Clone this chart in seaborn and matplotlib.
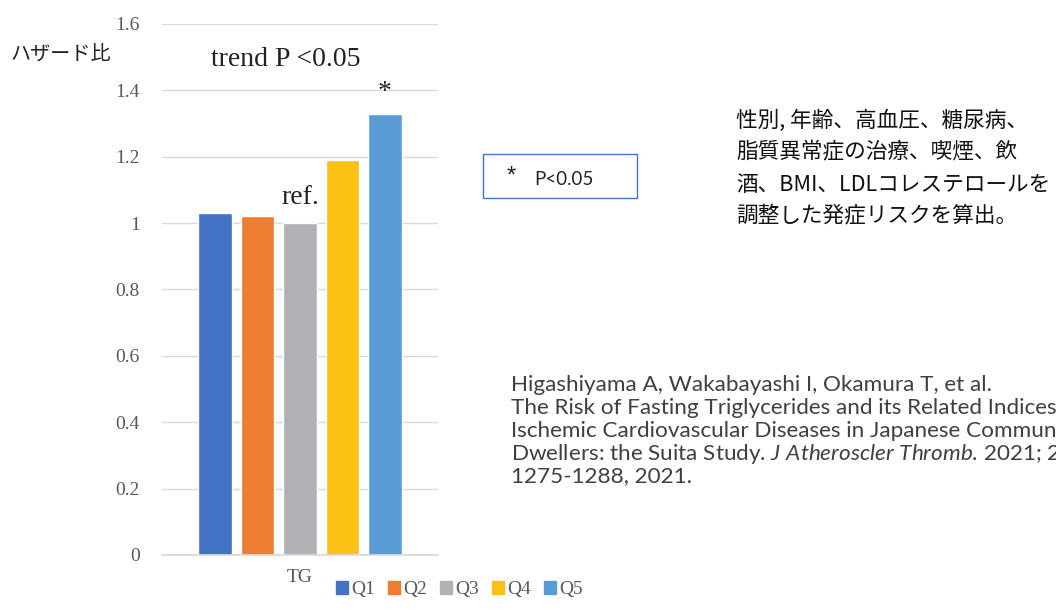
import pandas as pd
import matplotlib.pyplot as plt
import seaborn as sns
from matplotlib.patches import Rectangle

# data
groups = ['Q1', 'Q2', 'Q3', 'Q4', 'Q5']
hazard = [1.03, 1.02, 1.00, 1.19, 1.33]
category = 'TG'
colors = ['#4472C4', '#ED7D31', '#B0B1B4', '#FBC014', '#5B9BD5']
yticks = [0, 0.2, 0.4, 0.6, 0.8, 1.0, 1.2, 1.4, 1.6]
ytick_labels = ['0', '0.2', '0.4', '0.6', '0.8', '1', '1.2', '1.4', '1.6']

df = pd.DataFrame({'cat': [category] * len(groups), 'group': groups, 'HR': hazard})

sns.set_theme(style='white')
plt.rcParams['font.family'] = ['Liberation Serif', 'DejaVu Sans']
plt.rcParams['mathtext.fontset'] = 'custom'
plt.rcParams['mathtext.it'] = 'Lato:italic'
plt.rcParams['mathtext.rm'] = 'Lato'

fig = plt.figure(figsize=(10.56, 6.10), dpi=100)
ax = fig.add_axes([0.1534, 0.0902, 0.2614, 0.8705])

sns.barplot(data=df, x='cat', y='HR', hue='group', palette=colors,
            width=0.77, gap=0.22, saturation=1, legend=False, ax=ax)

ax.set_ylim(0, 1.6)
ax.set_xlim(-0.5, 0.5)
ax.set_yticks(yticks)
ax.set_yticklabels(ytick_labels)
ax.yaxis.grid(True, color='#d9d9d9', linewidth=1)
ax.set_axisbelow(True)
for s in ['top', 'right', 'left']:
    ax.spines[s].set_visible(False)
ax.spines['bottom'].set_color('#d9d9d9')
ax.tick_params(axis='y', length=0, pad=16, labelsize=14, labelcolor='#595959')
ax.tick_params(axis='x', length=0, pad=10, labelsize=14, labelcolor='#595959')
ax.set_xlabel('')
ax.set_ylabel('')

# annotations on bars
bars = ax.patches
ax.text(bars[2].get_x() + bars[2].get_width() / 2, hazard[2] + 0.04, 'ref.',
        ha='center', va='bottom', fontsize=20, color='#222222')
ax.text(bars[4].get_x() + bars[4].get_width() / 2, hazard[4] + 0.025, '*',
        ha='center', va='bottom', fontsize=20, color='#222222')

fig.text(0.200, 0.902, 'trend P <0.05', fontsize=20, color='#222222', va='center')
fig.text(0.010, 0.909, 'ハザード比', fontsize=14.5, va='center',
         family=['Noto Sans CJK JP', 'DejaVu Sans'], color='#222222')

# legend
handles = [Rectangle((0, 0), 1, 1, color=c) for c in colors]
fig.legend(handles, groups, loc='center', bbox_to_anchor=(0.435, 0.033), ncol=5,
           frameon=False, fontsize=14, handlelength=0.6, handleheight=0.6,
           handletextpad=0.15, columnspacing=0.7, labelcolor='#595959')

# P<0.05 box
fig.patches.append(Rectangle((0.4575, 0.6754), 0.1457, 0.0721, transform=fig.transFigure,
                             fill=False, edgecolor='#4472C4', linewidth=1))
fig.text(0.480, 0.710, '*', fontsize=17, va='center', family='Liberation Sans', color='#222222')
fig.text(0.506, 0.705, 'P<0.05', fontsize=13.5, va='center', family='Lato', color='#222222')

# Japanese note
note = ['性別, 年齢、高血圧、糖尿病、', '脂質異常症の治療、喫煙、飲',
        '酒、BMI、LDLコレステロールを', '調整した発症リスクを算出。']
for i, line in enumerate(note):
    fig.text(0.697, 0.802 - i * 0.0525, line, fontsize=15.6, va='center',
             family=['Noto Sans CJK JP', 'DejaVu Sans'], color='#111111')

# citation
cite = ['Higashiyama A, Wakabayashi I, Okamura T, et al.',
        'The Risk of Fasting Triglycerides and its Related Indices for',
        'Ischemic Cardiovascular Diseases in Japanese Community',
        'Dwellers: the Suita Study. $\\it{J\\ Atheroscler\\ Thromb}$. 2021; 28:',
        '1275-1288, 2021.']
for i, line in enumerate(cite):
    fig.text(0.484, 0.369 - i * 0.0375, line, fontsize=16.2, va='center',
             family='Lato', color='#404040')

fig.savefig('out.png', dpi=100)
